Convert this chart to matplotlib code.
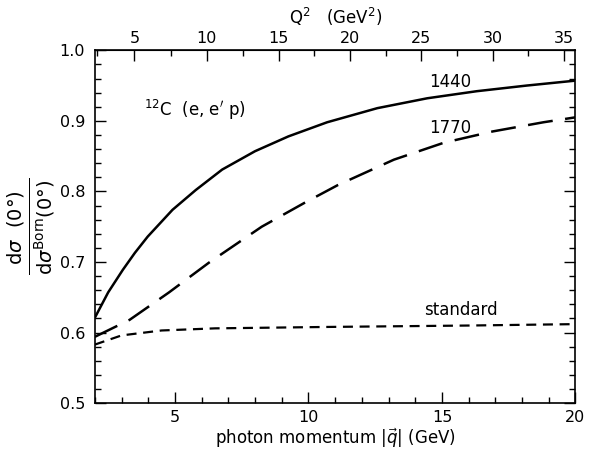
import numpy as np
import matplotlib
matplotlib.use('Agg')
import matplotlib.pyplot as plt
import matplotlib.ticker as mticker

# values
q_1440 = [2.0, 2.5, 3.05, 3.5, 3.98, 4.91, 5.78, 6.77, 8.0, 9.25, 10.7, 12.58, 14.45, 16.3, 18.17, 20.0]
r_1440 = [0.621, 0.657, 0.689, 0.713, 0.736, 0.774, 0.802, 0.831, 0.857, 0.878, 0.898, 0.918, 0.932, 0.942, 0.950, 0.957]

q_1770 = [2.0, 3.3, 4.78, 6.27, 8.25, 9.86, 11.1, 13.2, 15.07, 16.9, 18.8, 20.0]
r_1770 = [0.594, 0.618, 0.657, 0.699, 0.750, 0.784, 0.809, 0.845, 0.869, 0.885, 0.898, 0.905]

q_std = [2.0, 3.0, 4.5, 6.5, 10.7, 16.0, 20.0]
r_std = [0.583, 0.596, 0.603, 0.606, 0.608, 0.610, 0.612]

q2_ticks = [5, 10, 15, 20, 25, 30, 35]

M = 0.938  # proton mass, for the Q^2 axis


def q_to_Q2(q):
    q = np.asarray(q, dtype=float)
    return 2 * M * (np.sqrt(q ** 2 + M ** 2) - M)


def Q2_to_q(Q2):
    T = np.clip(np.asarray(Q2, dtype=float), 0, None) / (2 * M)
    return np.sqrt((T + M) ** 2 - M ** 2)


fig = plt.figure(figsize=(5.89, 4.53), dpi=100)
ax = fig.add_axes([0.161, 0.11, 0.816, 0.779])

ax.plot(q_1440, r_1440, color='black', lw=1.8)
ax.plot(q_1770, r_1770, color='black', lw=1.8, dashes=(10, 5))
ax.plot(q_std, r_std, color='black', lw=1.6, dashes=(4.5, 3))

ax.set_xlim(2, 20)
ax.set_ylim(0.5, 1.0)

ax.xaxis.set_major_locator(mticker.FixedLocator([5, 10, 15, 20]))
ax.xaxis.set_minor_locator(mticker.MultipleLocator(1))
ax.yaxis.set_major_locator(mticker.MultipleLocator(0.1))
ax.yaxis.set_minor_locator(mticker.MultipleLocator(0.02))
ax.yaxis.set_major_formatter(mticker.FormatStrFormatter('%.1f'))

ax.tick_params(which='both', direction='in', right=True, labelsize=11.5, width=1)
ax.tick_params(which='major', length=8)
ax.tick_params(which='minor', length=4)
ax.tick_params(axis='x', which='both', top=False, pad=5)
ax.tick_params(axis='y', pad=7)
for s in ax.spines.values():
    s.set_linewidth(1.2)

# top axis in Q^2
top = ax.secondary_xaxis('top', functions=(q_to_Q2, Q2_to_q))
top.xaxis.set_major_locator(mticker.FixedLocator(q2_ticks))
top.xaxis.set_minor_locator(mticker.MultipleLocator(2.5))
top.tick_params(which='both', direction='in', labelsize=11.5, width=1)
top.tick_params(which='major', length=8, pad=3)
top.tick_params(which='minor', length=4)
top.set_xlabel(r'Q$^2$   (GeV$^2$)', fontsize=12, labelpad=5)

ax.set_xlabel(r'photon momentum $|\vec{q}|$ (GeV)', fontsize=12, labelpad=1)
ax.set_ylabel(r'$\frac{\mathrm{d}\sigma\ \ (0°)}{\mathrm{d}\sigma^{\mathrm{Born}}(0°)}$',
              fontsize=20, labelpad=2)

ax.text(3.86, 0.916, r"$^{12}$C  (e, e$'$ p)", fontsize=12, va='center')
ax.text(15.3, 0.955, '1440', fontsize=12, ha='center', va='center')
ax.text(15.3, 0.890, '1770', fontsize=12, ha='center', va='center')
ax.text(15.7, 0.632, 'standard', fontsize=12, ha='center', va='center')

fig.savefig('out.png', dpi=100)
